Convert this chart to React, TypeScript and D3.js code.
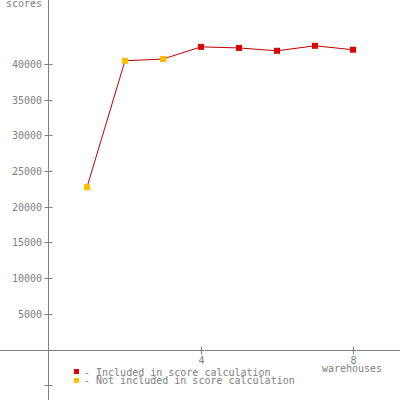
import React from "react";
import * as d3 from "d3";

const warehouses = [1, 2, 3, 4, 5, 6, 7, 8];
const scores = [22750, 40450, 40700, 42400, 42250, 41850, 42550, 42000];
const included = [false, false, false, true, true, true, true, true];
const yTicks = [-5000, 5000, 10000, 15000, 20000, 25000, 30000, 35000, 40000];
const xTicks = [4, 8];
const legendLabels = ["- Included in score calculation", "- Not included in score calculation"];

const W = 400, H = 400;
const GRAY = "#808080";
const FONT = "'DejaVu Sans Mono', monospace";

export default function App() {
  const x = d3.scaleLinear().domain([0, 8]).range([49, 353]);
  const y = d3.scaleLinear().domain([0, 40000]).range([349.5, 64]);
  const x0 = Math.round(x(0)) - 0.5;
  const y0 = Math.round(y(0)) + 0.5;
  const line = d3
    .line<number>()
    .x((_, i) => x(warehouses[i]))
    .y((d) => y(d));

  return (
    <svg width={W} height={H} style={{ position: "absolute", left: 0, top: 0, background: "#fff" }}>
      <rect width={W} height={H} fill="#fff" />
      <line x1={x0} x2={x0} y1={0} y2={H} stroke={GRAY} strokeWidth={1} />
      <line x1={0} x2={W} y1={y0} y2={y0} stroke={GRAY} strokeWidth={1} />
      {yTicks.map((t) => {
        const yy = Math.round(y(t)) + 0.5;
        return (
          <g key={t}>
            <line x1={x0 - 4} x2={x0 + 4} y1={yy} y2={yy} stroke={GRAY} />
            {t > 0 && (
              <text x={42} y={yy + 3.5} textAnchor="end" fontFamily={FONT} fontSize={10} fill={GRAY}>
                {t}
              </text>
            )}
          </g>
        );
      })}
      <text x={42} y={7} textAnchor="end" fontFamily={FONT} fontSize={10} fill={GRAY}>
        scores
      </text>
      {xTicks.map((t) => {
        const xx = Math.round(x(t)) + 0.5;
        return (
          <g key={t}>
            <line x1={xx} x2={xx} y1={y0 - 4} y2={y0 + 4} stroke={GRAY} />
            <text x={xx} y={364} textAnchor="middle" fontFamily={FONT} fontSize={10} fill={GRAY}>
              {t}
            </text>
          </g>
        );
      })}
      <text x={x(8) - 1} y={372} textAnchor="middle" fontFamily={FONT} fontSize={10} fill={GRAY}>
        warehouses
      </text>
      <path d={line(scores) || ""} fill="none" stroke="#c00000" strokeWidth={1} />
      {scores.map((s, i) => (
        <rect
          key={i}
          x={x(warehouses[i]) - 3}
          y={y(s) - 3}
          width={6}
          height={6}
          fill={included[i] ? "#e00000" : "#ffbf00"}
        />
      ))}
      {legendLabels.map((lab, i) => (
        <g key={lab}>
          <rect x={74} y={369 + i * 9} width={5} height={5} fill={i === 0 ? "#e00000" : "#ffbf00"} />
          <text x={84} y={376 + i * 8} fontFamily={FONT} fontSize={10} fill={GRAY}>
            {lab}
          </text>
        </g>
      ))}
    </svg>
  );
}
